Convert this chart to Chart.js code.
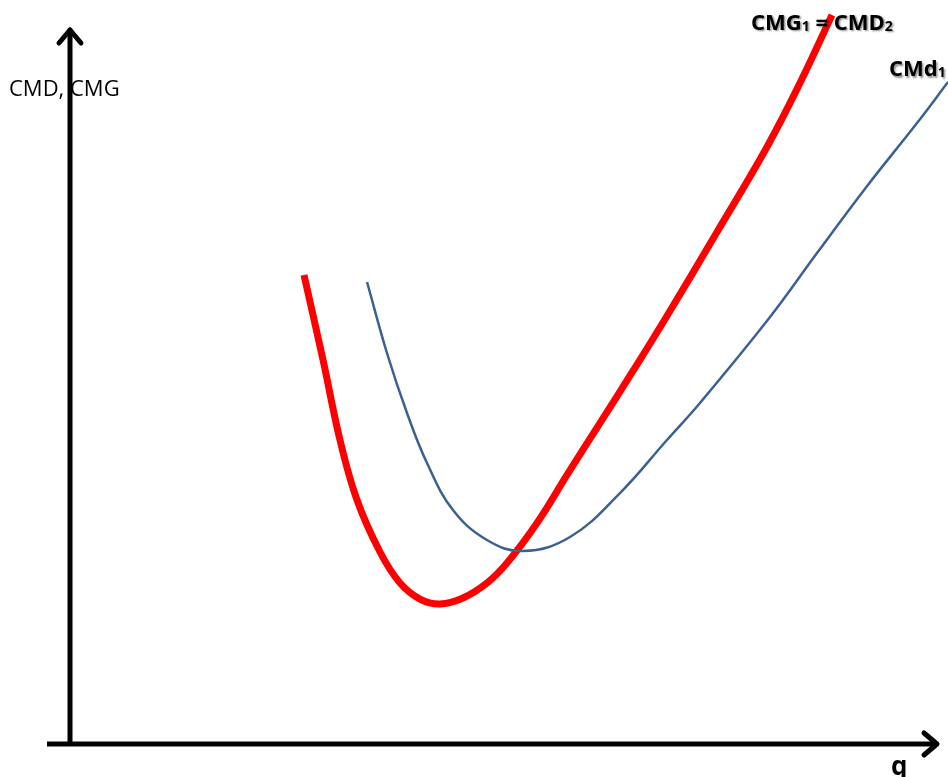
<!DOCTYPE html>
<html>
<head>
<meta charset="utf-8">
<script src="https://cdn.jsdelivr.net/npm/chart.js@4.4.1/dist/chart.umd.min.js"></script>
<style>
  html, body { margin: 0; padding: 0; background: #fff; }
  #wrap { width: 948px; height: 777px; }
</style>
</head>
<body>
<div id="wrap"><canvas id="costChart" width="948" height="777"></canvas></div>
<script>
// quantity (q) and cost values, abstract units 0..100
const cmgQ = [26.65, 28.82, 30.75, 32.69, 35.31, 37.59, 39.86, 42.14, 44.76, 47.49, 49.77, 53.19, 56.61, 60.36, 64.12, 67.99, 73.69, 79.38, 83.14, 86.79];
const cmgCost = [63.9, 52.32, 41.42, 33.24, 26.16, 21.93, 19.75, 19.07, 19.89, 21.93, 24.66, 30.11, 36.65, 43.73, 50.82, 58.31, 69.75, 81.34, 90.05, 99.32];

const cmdQ = [33.83, 36.10, 38.38, 40.66, 43.62, 47.49, 51.59, 56.95, 62.64, 67.99, 71.75, 79.73, 85.08, 90.77, 96.47, 100];
const cmdCost = [62.94, 53.27, 45.10, 38.28, 31.88, 27.79, 26.29, 28.20, 34.19, 41.42, 46.46, 58.17, 66.89, 76.0, 84.60, 90.19];

const yAxisLabel = 'CMD, CMG';
const xAxisLabel = 'q';

const toPoints = (xs, ys) => xs.map((x, i) => ({ x: x, y: ys[i] }));

// draws the arrow axes and the text labels
const axesPlugin = {
    id: 'axesPlugin',
    afterDatasetsDraw(chart) {
        const ctx = chart.ctx;
        const xs = chart.scales.x;
        const ys = chart.scales.y;
        const ox = xs.getPixelForValue(0);
        const oy = ys.getPixelForValue(0);

        ctx.save();
        ctx.strokeStyle = '#000';
        ctx.lineWidth = 5;
        ctx.lineCap = 'round';
        ctx.lineJoin = 'round';

        // y axis
        const yTop = 30;
        ctx.beginPath();
        ctx.moveTo(ox, oy - 2);
        ctx.lineTo(ox, yTop);
        ctx.stroke();
        ctx.beginPath();
        ctx.moveTo(ox - 11, yTop + 13);
        ctx.lineTo(ox, yTop);
        ctx.lineTo(ox + 11, yTop + 13);
        ctx.stroke();

        // x axis
        const xEnd = 937;
        ctx.lineCap = 'butt';
        ctx.beginPath();
        ctx.moveTo(47, oy);
        ctx.lineTo(xEnd, oy);
        ctx.stroke();
        ctx.lineCap = 'round';
        ctx.beginPath();
        ctx.moveTo(xEnd - 13, oy - 11);
        ctx.lineTo(xEnd, oy);
        ctx.lineTo(xEnd - 13, oy + 11);
        ctx.stroke();

        // axis titles
        ctx.fillStyle = '#000';
        ctx.textBaseline = 'alphabetic';
        ctx.font = '22px "Open Sans", sans-serif';
        ctx.fillText(yAxisLabel, 9, 96);
        ctx.font = 'bold 26px "Open Sans", sans-serif';
        ctx.fillText(xAxisLabel, 891, 775);

        // curve labels with subscripts, anchored near the curve ends
        const drawLabel = (parts, x, y) => {
            ctx.shadowColor = 'rgba(0,0,0,0.45)';
            ctx.shadowOffsetX = 1.5;
            ctx.shadowOffsetY = 1.5;
            ctx.shadowBlur = 2;
            let cx = x;
            parts.forEach(p => {
                ctx.font = p.sub ? 'bold 14px "Open Sans", sans-serif' : 'bold 22px "Open Sans", sans-serif';
                ctx.fillText(p.t, cx, p.sub ? y + 1 : y);
                cx += ctx.measureText(p.t).width;
            });
            ctx.shadowColor = 'transparent';
        };
        const cmgEndX = xs.getPixelForValue(cmgQ[cmgQ.length - 1]);
        const cmgEndY = ys.getPixelForValue(cmgCost[cmgCost.length - 1]);
        drawLabel([{ t: 'CMG' }, { t: '1', sub: true }, { t: ' = CMD' }, { t: '2', sub: true }], cmgEndX - 81, cmgEndY + 15);
        const cmdEndX = xs.getPixelForValue(cmdQ[cmdQ.length - 1]);
        const cmdEndY = ys.getPixelForValue(cmdCost[cmdCost.length - 1]);
        drawLabel([{ t: 'CMd' }, { t: '1', sub: true }], cmdEndX - 59, cmdEndY - 6);
        ctx.restore();
    }
};

new Chart(document.getElementById('costChart'), {
    type: 'line',
    data: {
        datasets: [
            {
                label: 'CMd1',
                data: toPoints(cmdQ, cmdCost),
                borderColor: '#3B6190',
                borderWidth: 2.5,
                pointRadius: 0,
                tension: 0.4,
                fill: false,
                clip: false
            },
            {
                label: 'CMG1 = CMD2',
                data: toPoints(cmgQ, cmgCost),
                borderColor: '#FF0000',
                borderWidth: 7,
                pointRadius: 0,
                tension: 0.4,
                borderCapStyle: 'butt',
                fill: false,
                clip: false
            }
        ]
    },
    options: {
        responsive: false,
        animation: false,
        layout: { padding: { left: 70, right: 0, top: 10, bottom: 33 } },
        plugins: {
            legend: { display: false },
            tooltip: { enabled: false }
        },
        scales: {
            x: { type: 'linear', min: 0, max: 100, display: false },
            y: { type: 'linear', min: 0, max: 100, display: false }
        }
    },
    plugins: [axesPlugin]
});
</script>
</body>
</html>
